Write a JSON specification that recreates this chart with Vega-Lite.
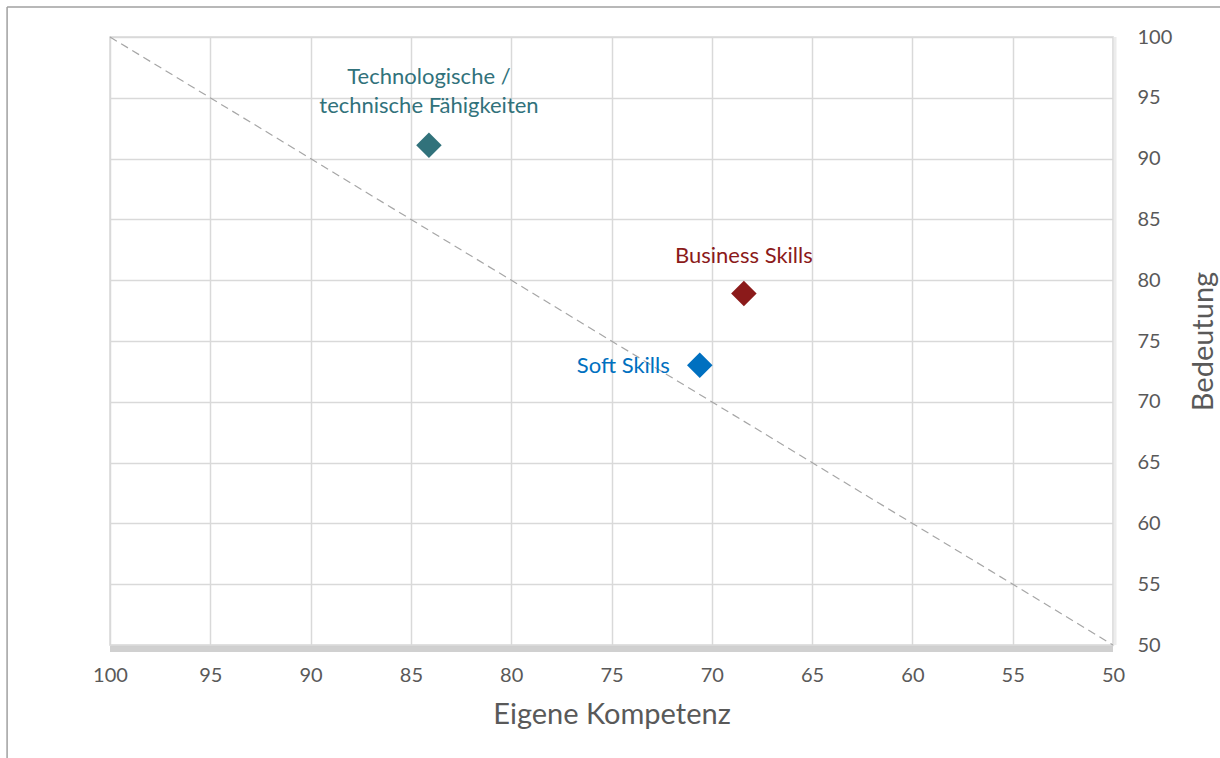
{
  "$schema": "https://vega.github.io/schema/vega-lite/v6.json",
  "width": 1003,
  "height": 608,
  "autosize": {"type": "none"},
  "padding": {"left": 110, "top": 37, "right": 107, "bottom": 113},
  "background": "white",
  "config": {
    "font": "Lato",
    "view": {"stroke": "#d9d9d9", "strokeWidth": 1.5},
    "axis": {"grid": true, "gridColor": "#d9d9d9", "gridWidth": 1.5, "domain": false, "ticks": false, "labelFlush": false, "labelColor": "#595959", "titleColor": "#595959", "labelFont": "Lato", "titleFont": "Lato", "titleFontWeight": "normal"}
  },
  "datasets": {
    "skills": [
      {"skill": "Technologische / technische Fähigkeiten", "label": "Technologische /\ntechnische Fähigkeiten", "kompetenz": 84.1, "bedeutung": 91.1},
      {"skill": "Business Skills", "label": "Business Skills", "kompetenz": 68.4, "bedeutung": 78.9},
      {"skill": "Soft Skills", "label": "Soft Skills", "kompetenz": 70.6, "bedeutung": 73.0}
    ],
    "diagonal": [
      {"kompetenz": 100, "bedeutung": 100},
      {"kompetenz": 50, "bedeutung": 50}
    ],
    "one": [{}]
  },
  "layer": [
    {
      "data": {"name": "diagonal"},
      "mark": {"type": "line", "color": "#a6a6a6", "strokeWidth": 1.2, "strokeDash": [8, 5]},
      "encoding": {
        "x": {
          "field": "kompetenz", "type": "quantitative",
          "scale": {"domain": [50, 100], "reverse": true, "nice": false, "zero": false},
          "axis": {"grid": true, "values": [50, 55, 60, 65, 70, 75, 80, 85, 90, 95, 100], "title": "Eigene Kompetenz", "labelFontSize": 20, "labelPadding": 20, "titleFontSize": 29, "titlePadding": 15}
        },
        "y": {
          "field": "bedeutung", "type": "quantitative",
          "scale": {"domain": [50, 100], "nice": false, "zero": false},
          "axis": {"grid": true, "orient": "right", "values": [50, 55, 60, 65, 70, 75, 80, 85, 90, 95, 100], "title": "Bedeutung", "labelFontSize": 20, "labelPadding": 24, "labelAlign": "left", "titleFontSize": 29, "titleAngle": 270, "titleX": 90, "titleY": 304, "titleAlign": "center", "titleBaseline": "middle"}
        }
      }
    },
    {
      "data": {"name": "one"},
      "mark": {"type": "rule", "color": "#c8c8c8", "strokeWidth": 6, "yOffset": 4, "opacity": 0.85},
      "encoding": {
        "x": {"datum": 100, "type": "quantitative"},
        "x2": {"datum": 50},
        "y": {"datum": 50, "type": "quantitative"}
      }
    },
    {
      "data": {"name": "one"},
      "mark": {"type": "rule", "color": "#ececec", "strokeWidth": 3, "xOffset": 2},
      "encoding": {
        "x": {"datum": 50, "type": "quantitative"},
        "y": {"datum": 100, "type": "quantitative"},
        "y2": {"datum": 50}
      }
    },
    {
      "data": {"name": "skills"},
      "mark": {"type": "point", "shape": "diamond", "filled": true, "size": 650, "opacity": 1},
      "encoding": {
        "x": {"field": "kompetenz", "type": "quantitative"},
        "y": {"field": "bedeutung", "type": "quantitative"},
        "color": {"field": "skill", "type": "nominal", "legend": null, "scale": {"domain": ["Technologische / technische Fähigkeiten", "Business Skills", "Soft Skills"], "range": ["#31727b", "#8b1a1a", "#0070c0"]}}
      }
    },
    {
      "data": {"name": "skills"},
      "transform": [{"filter": "datum.skill === 'Technologische / technische Fähigkeiten'"}],
      "mark": {"type": "text", "fontSize": 22, "align": "center", "baseline": "bottom", "lineBreak": "\n", "lineHeight": 29, "dy": -56},
      "encoding": {
        "x": {"field": "kompetenz", "type": "quantitative"},
        "y": {"field": "bedeutung", "type": "quantitative"},
        "text": {"field": "label"},
        "color": {"field": "skill", "type": "nominal", "legend": null}
      }
    },
    {
      "data": {"name": "skills"},
      "transform": [{"filter": "datum.skill === 'Business Skills'"}],
      "mark": {"type": "text", "fontSize": 22, "align": "center", "baseline": "middle", "dy": -38},
      "encoding": {
        "x": {"field": "kompetenz", "type": "quantitative"},
        "y": {"field": "bedeutung", "type": "quantitative"},
        "text": {"field": "label"},
        "color": {"field": "skill", "type": "nominal", "legend": null}
      }
    },
    {
      "data": {"name": "skills"},
      "transform": [{"filter": "datum.skill === 'Soft Skills'"}],
      "mark": {"type": "text", "fontSize": 22, "align": "right", "baseline": "middle", "dx": -30, "dy": 1},
      "encoding": {
        "x": {"field": "kompetenz", "type": "quantitative"},
        "y": {"field": "bedeutung", "type": "quantitative"},
        "text": {"field": "label"},
        "color": {"field": "skill", "type": "nominal", "legend": null}
      }
    },
    {
      "data": {"name": "one"},
      "mark": {"type": "rule", "color": "#a0a0a0", "strokeWidth": 1.5},
      "encoding": {
        "x": {"datum": 105.13, "type": "quantitative"},
        "y": {"datum": 102.47, "type": "quantitative"},
        "y2": {"datum": 40}
      }
    },
    {
      "data": {"name": "one"},
      "mark": {"type": "rule", "color": "#a0a0a0", "strokeWidth": 1.5},
      "encoding": {
        "x": {"datum": 105.13, "type": "quantitative"},
        "x2": {"datum": 44},
        "y": {"datum": 102.47, "type": "quantitative"}
      }
    }
  ]
}
